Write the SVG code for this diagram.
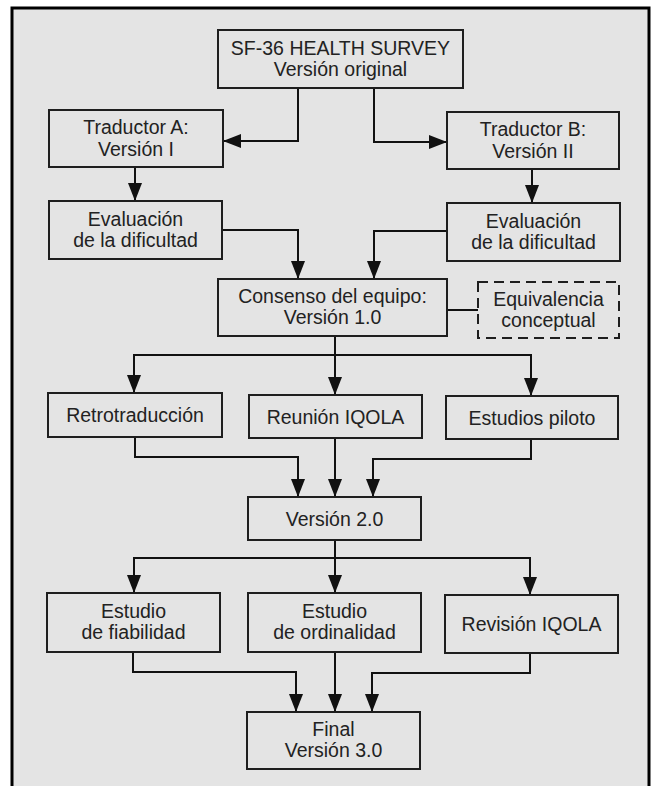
<svg xmlns="http://www.w3.org/2000/svg" width="653" height="786" viewBox="0 0 653 786">
  <defs>
    <marker id="arr" markerUnits="userSpaceOnUse" markerWidth="18" markerHeight="14" refX="18" refY="7" orient="auto">
      <path d="M0,0 L18,7 L0,14 Z" fill="#111"/>
    </marker>
    <style>
      .box { fill: none; stroke: #1e1e1e; stroke-width: 2; }
      .dash { stroke-dasharray: 10 6; }
      .conn { fill: none; stroke: #111; stroke-width: 2; }
      .arr { marker-end: url(#arr); }
      text { font-family: "Liberation Sans", Arial, sans-serif; font-size: 19.5px; fill: #222; text-anchor: middle; }
    </style>
  </defs>
  <rect x="0" y="0" width="653" height="786" fill="#ffffff"/>
  <path d="M12,792 V8 H649 V792 Z" fill="#e4e4e4" stroke="#000" stroke-width="3"/>

  <g id="connectors">
    <path class="conn arr" d="M298,88 V141 H223"/>
    <path class="conn arr" d="M374,88 V142 H447"/>
    <path class="conn arr" d="M135,167 V201"/>
    <path class="conn arr" d="M532,169 V203"/>
    <path class="conn arr" d="M222,230 H298 V279"/>
    <path class="conn arr" d="M447,231 H374 V279"/>
    <path class="conn" d="M447,310 H478"/>
    <path class="conn arr" d="M335,355 H134 V393"/>
    <path class="conn arr" d="M335,355 H531 V396"/>
    <path class="conn arr" d="M335,336 V395"/>
    <path class="conn arr" d="M135,437 V457 H298 V497"/>
    <path class="conn arr" d="M335,438 V497"/>
    <path class="conn arr" d="M531,439 V459 H373 V497"/>
    <path class="conn arr" d="M335,558 H134 V593"/>
    <path class="conn arr" d="M335,558 H530 V595"/>
    <path class="conn arr" d="M335,540 V593"/>
    <path class="conn arr" d="M133,652 V672 H296 V712"/>
    <path class="conn arr" d="M335,652 V712"/>
    <path class="conn arr" d="M530,653 V673 H372 V712"/>
  </g>

  <g id="sf36">
    <rect class="box" x="218" y="30" width="245" height="58"/>
    <text x="340.5" y="54.5">SF-36 HEALTH SURVEY</text>
    <text x="340.5" y="75.5">Versión original</text>
  </g>
  <g id="traductorA">
    <rect class="box" x="49" y="110" width="174" height="57"/>
    <text x="136" y="134">Traductor A:</text>
    <text x="136" y="155.5">Versión I</text>
  </g>
  <g id="traductorB">
    <rect class="box" x="447" y="112" width="172" height="57"/>
    <text x="533" y="136">Traductor B:</text>
    <text x="533" y="157.5">Versión II</text>
  </g>
  <g id="evaluacionA">
    <rect class="box" x="49" y="201" width="173" height="58"/>
    <text x="135.5" y="225.5">Evaluación</text>
    <text x="135.5" y="246.5">de la dificultad</text>
  </g>
  <g id="evaluacionB">
    <rect class="box" x="447" y="203" width="173" height="58"/>
    <text x="533.5" y="227.5">Evaluación</text>
    <text x="533.5" y="248.5">de la dificultad</text>
  </g>
  <g id="consenso">
    <rect class="box" x="218" y="279" width="229" height="57"/>
    <text x="332.5" y="303">Consenso del equipo:</text>
    <text x="332.5" y="324">Versión 1.0</text>
  </g>
  <g id="equivalencia">
    <rect class="box dash" x="478" y="282" width="141" height="56"/>
    <text x="548.5" y="305.5">Equivalencia</text>
    <text x="548.5" y="326.5">conceptual</text>
  </g>
  <g id="retrotraduccion">
    <rect class="box" x="48" y="393" width="174" height="44"/>
    <text x="135" y="422">Retrotraducción</text>
  </g>
  <g id="reunion">
    <rect class="box" x="249" y="395" width="173" height="43"/>
    <text x="335.5" y="423.5">Reunión IQOLA</text>
  </g>
  <g id="piloto">
    <rect class="box" x="446" y="396" width="172" height="43"/>
    <text x="532" y="424.5">Estudios piloto</text>
  </g>
  <g id="version2">
    <rect class="box" x="248" y="497" width="173" height="43"/>
    <text x="334.5" y="525.5">Versión 2.0</text>
  </g>
  <g id="fiabilidad">
    <rect class="box" x="47" y="593" width="173" height="59"/>
    <text x="133.5" y="618">Estudio</text>
    <text x="133.5" y="639">de fiabilidad</text>
  </g>
  <g id="ordinalidad">
    <rect class="box" x="248" y="593" width="173" height="59"/>
    <text x="334.5" y="618">Estudio</text>
    <text x="334.5" y="639">de ordinalidad</text>
  </g>
  <g id="revision">
    <rect class="box" x="445" y="595" width="173" height="58"/>
    <text x="531.5" y="631">Revisión IQOLA</text>
  </g>
  <g id="final">
    <rect class="box" x="247" y="712" width="173" height="57"/>
    <text x="333.5" y="736">Final</text>
    <text x="333.5" y="757">Versión 3.0</text>
  </g>
</svg>
